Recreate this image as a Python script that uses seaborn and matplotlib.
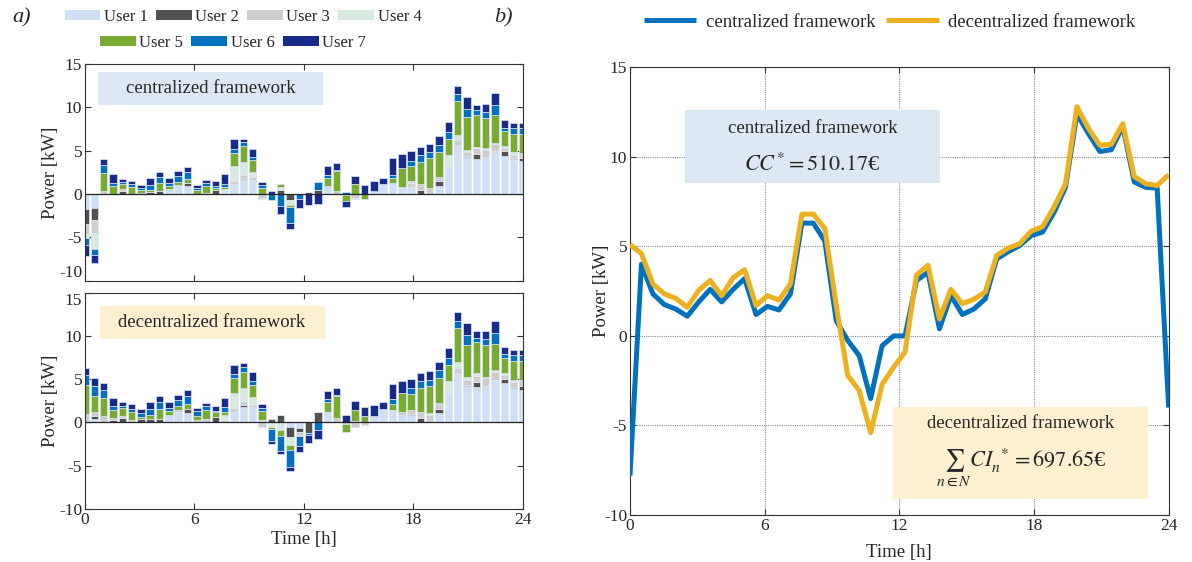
import numpy as np
import matplotlib.pyplot as plt
from matplotlib.patches import Rectangle
import seaborn as sns

# time axis: 48 samples over the day
time_h = np.linspace(0, 24, 48)

users = ["User 1", "User 2", "User 3", "User 4", "User 5", "User 6", "User 7"]
user_colors = ["#cfe0f6", "#515151", "#cdcdcd", "#d7eadf", "#77ac30", "#0072bd", "#172b8b"]

# centralized framework - power per user [kW]
cen_u1 = [-1.7, -1.6, 0, 0, 0, 0, 0, 0, 0, 0.55,
          1.1, 0.9, 0, 0, 0, 0, 1.15, 1.7, 1.6, 0,
          0, 0, 0, 0, 0, 0, 0.9, 0, 0, 0,
          0, 0.4, 1.15, 1.3, 0.75, 0.85, 0, 0, 0.9, 3.15,
          5.65, 4.25, 4.05, 4.25, 4.95, 4.4, 4.05, 3.85]
cen_u2 = [-1.7, -1.35, 0, 0, 0.4, 0, 0, 0.25, 0.4, 0,
          0, 0.4, 0, 0, 0.45, 0, 0, 0.2, 0, 0,
          0, 0.45, -0.7, 0, 0.25, 0.5, 0, 0, 0, 0,
          0, 0, 0, 0, 0, 0, 0.45, 0, 0.6, 0,
          0, 0.1, 0.55, 0, 0, 0.55, 0.1, 0.3]
cen_u3 = [-1.2, -1.55, 0.35, 0, 0.15, 0, 0.15, 0, 0, 0,
          0, 0, 0, 0.15, 0, 0, 0.3, 0.25, 0.4, -0.45,
          0, 0, 0, 0, 0, 0, 0, 0.35, -0.1, -0.45,
          0, 0, 0, 0, 0.1, 0.4, 0.7, 0.65, 0.45, 0,
          0.6, 0.45, 0.7, 0.85, 0.8, 0.4, 0.4, 0.55]
cen_u4 = [-0.5, -1.8, 0, 0, 0, 0, 0, 0, 0, 0,
          0, 0, 0, 0, 0, 0.55, 1.75, 1.55, 0.55, -0.1,
          0, 0.4, -0.55, 0, 0, 0, 0, 0, 0, -0.15,
          0, 0, 0, 0, 0, 0.2, 0, 0.1, 0, 1.4,
          0.6, 0.3, 0.1, 0.2, 0.15, 0.15, 0.25, 0]
cen_u5 = [0, 0, 2.1, 0.9, 0.6, 0.85, 0.3, 0.2, 0.85, 0.35,
          0.3, 0.4, 0.45, 0.8, 0.25, 0.25, 1.55, 1.8, 1.35, 0.75,
          0, 0.35, -0.3, 0, 0, 0, 0.9, 2.3, -0.7, 1.15,
          -0.6, 0, 0, 0.6, 2.2, 1.75, 2.6, 3.35, 2.95, 1.75,
          3.9, 3.75, 3.75, 3.45, 3.2, 1.75, 2.15, 2.25]
cen_u6 = [-0.8, -0.75, 0.85, 0.4, 0.25, 0.3, 0.25, 0.65, 0.7, 0.4,
          0.7, 0.8, 0.25, 0.35, 0.2, 0.35, 0.5, 0.45, 0.4, 0.25,
          -0.65, -1.4, -1.75, -0.6, 0, 0.85, 0.45, 0.15, 0.2, 0,
          0, 0, 0, 0.35, 0, 0.65, 0.75, 0.75, 0.7, 0.9,
          0.8, 1.0, 0.55, 0.75, 1.15, 0.4, 0.65, 0.7]
cen_u7 = [-1.3, -0.85, 0.7, 1.05, 0.3, 0.3, 0.3, 0.7, 0.55, 0.5,
          0.55, 0.65, 0.4, 0.3, 0.55, 1.15, 1.05, 0.35, 0.95, 0.35,
          0.4, -0.9, -0.75, -1.05, -1.25, -1.2, 0.95, 0.75, -0.7, 0.9,
          1.1, 1.05, 0.75, 1.95, 1.6, 1.1, 0.95, 0.95, 1.15, 1.1,
          0.95, 1.35, 0.6, 0.9, 1.45, 0.9, 0.6, 0.5]

# decentralized framework - power per user [kW]
dec_u1 = [0.2, 0.35, 0, 0, 0, 0, 0, 0, 0, 0.9,
          1.25, 1.05, 0, 0, 0, 0, 1.25, 1.8, 1.8, 0,
          0, 0, -0.5, -0.6, 0, 0, 1.05, 0, 0, 0,
          0, 0.75, 1.55, 1.3, 0.85, 0.9, 0, 0, 1.05, 3.35,
          5.7, 4.25, 4.1, 4.25, 4.9, 4.5, 3.95, 3.75]
dec_u2 = [0, 0.4, 0, 0.25, 0.55, 0, 0.35, 0.45, 0.45, 0,
          0, 0.5, 0, 0, 0.65, 0, 0, 0.25, 0, 0,
          0.35, 0.9, -1.15, -0.55, -1.2, 1.25, 0, 0, 0, 0,
          0, 0, 0, 0, 0, 0.1, 0.55, 0, 0.5, 0,
          0, 0.1, 0.6, 0, 0, 0.5, 0.1, 0.5]
dec_u3 = [0.8, 0.5, 0.75, 0.25, 0.2, 0.25, 0, 0, 0, 0,
          0.2, 0, 0.25, 0.4, 0, 0.25, 0.45, 0.4, 0.25, -0.5,
          0, 0, 0, -0.25, 0, 0, 0.2, 0.55, -0.2, -0.5,
          -0.3, 0, 0, 0.1, 0.3, 0.45, 0.7, 0.85, 0.65, 0.1,
          0.55, 0.55, 0.7, 0.85, 0.95, 0.45, 0.6, 0.65]
dec_u4 = [0, 0, 0, 0, 0, 0, 0, 0, 0, 0,
          0, 0, 0, 0, 0, 0.6, 1.7, 1.55, 0.85, 0.25,
          -0.5, -0.9, -0.95, -0.15, 0, 0, 0, 0, 0, 0.2,
          0, 0, 0, 0, 0, 0, 0, 0.2, 0, 1.3,
          0.7, 0.4, 0.25, 0.2, 0.2, 0.2, 0.25, 0]
dec_u5 = [3.35, 1.85, 2.1, 0.95, 0.9, 0.9, 0.3, 0.4, 1.15, 0.4,
          0.4, 0.55, 0.5, 1.05, 0.5, 0.4, 1.75, 1.8, 1.45, 1.1,
          -0.25, -0.65, -0.6, 0, 0, 0, 1.15, 2.55, -0.95, 1.25,
          0.75, 0, 0, 0.7, 2.2, 1.85, 2.7, 3.15, 2.9, 1.85,
          4.0, 3.65, 3.6, 3.65, 3.0, 1.75, 2.2, 2.2]
dec_u6 = [1.1, 1.15, 0.9, 0.45, 0.25, 0.4, 0.45, 0.7, 0.8, 0.4,
          0.75, 0.9, 0.55, 0.4, 0.15, 0.55, 0.45, 0.55, 0.4, 0.3,
          -1.4, -1.8, -2.0, -1.15, -0.2, -0.9, 0.25, 0.1, 0, 0,
          0, 0, 0, 0.55, 0, 0.65, 0.85, 0.75, 0.95, 0.85,
          0.75, 1.1, 0.55, 0.7, 1.25, 0.45, 0.7, 0.7]
dec_u7 = [0.8, 0.85, 0.75, 0.95, 0.4, 0.55, 0.4, 0.75, 0.7, 0.7,
          0.6, 0.75, 0.4, 0.4, 0.6, 1.05, 1.05, 0.5, 1.05, 0.45,
          -0.35, -0.35, -0.4, -0.7, -1.0, -1.05, 0.95, 0.75, 0.85, 1.05,
          1.0, 1.25, 0.75, 1.8, 1.45, 1.1, 0.95, 0.95, 0.95, 1.1,
          1.1, 1.4, 0.7, 0.95, 1.45, 0.9, 0.6, 0.6]

# total power of the community [kW]
total_cen = [-7.8, 4.0, 2.35, 1.75, 1.5, 1.1, 1.9, 2.6, 1.9, 2.6,
             3.2, 1.2, 1.65, 1.45, 2.35, 6.3, 6.3, 5.3, 0.85, -0.25,
             -1.1, -3.5, -0.55, 0.0, 0.0, 3.1, 3.55, 0.4, 2.25, 1.2,
             1.5, 2.07, 4.3, 4.7, 5.05, 5.6, 5.8, 6.9, 8.3, 12.4,
             11.3, 10.3, 10.4, 11.7, 8.6, 8.3, 8.25, -4.0]
total_dec = [5.1, 4.6, 2.9, 2.35, 2.1, 1.6, 2.55, 3.1, 2.25, 3.25,
             3.7, 1.7, 2.25, 2.0, 2.9, 6.8, 6.8, 6.0, 1.7, -2.2,
             -3.05, -5.4, -2.7, -1.75, -0.9, 3.4, 3.95, 0.95, 2.6, 1.8,
             2.05, 2.45, 4.5, 4.9, 5.15, 5.85, 6.1, 7.2, 8.5, 12.8,
             11.6, 10.65, 10.7, 11.85, 8.9, 8.5, 8.4, 9.0]

sns.set_style("ticks")
plt.rcParams["font.family"] = ["Liberation Serif", "DejaVu Serif"]
plt.rcParams["mathtext.fontset"] = "stix"
plt.rcParams["axes.unicode_minus"] = False
plt.rcParams["xtick.direction"] = "in"
plt.rcParams["ytick.direction"] = "in"

fig = plt.figure(figsize=(11.92, 5.62), dpi=100)
ax_top = fig.add_axes([0.0713, 0.5005, 0.3674, 0.3856])
ax_bot = fig.add_axes([0.0713, 0.0943, 0.3674, 0.3852])
ax_r = fig.add_axes([0.5285, 0.0836, 0.4519, 0.7966])

bar_w = 0.8 * (time_h[1] - time_h[0])


def stacked_bars(ax, parts):
    pos = np.zeros(len(time_h))
    neg = np.zeros(len(time_h))
    for vals, col, name in zip(parts, user_colors, users):
        v = np.array(vals, dtype=float)
        base = np.where(v >= 0, pos, neg)
        ax.bar(time_h, v, width=bar_w, bottom=base, color=col,
               edgecolor="#dfe5f4", linewidth=0.5, label=name, zorder=2)
        pos += np.clip(v, 0, None)
        neg += np.clip(v, None, 0)
    ax.axhline(0, color="#222222", lw=0.9, zorder=3)


def style_axes(ax):
    ax.set_xlim(0, 24)
    ax.set_ylim(-10, 15)
    ax.set_xticks([0, 6, 12, 18, 24])
    ax.set_yticks([-10, -5, 0, 5, 10, 15])
    ax.tick_params(top=True, right=True, labelsize=12.5, length=4,
                   width=0.8, color="#333333", pad=2)
    for s in ax.spines.values():
        s.set_color("#333333")
        s.set_linewidth(0.8)


stacked_bars(ax_top, [cen_u1, cen_u2, cen_u3, cen_u4, cen_u5, cen_u6, cen_u7])
stacked_bars(ax_bot, [dec_u1, dec_u2, dec_u3, dec_u4, dec_u5, dec_u6, dec_u7])
for ax in (ax_top, ax_bot):
    style_axes(ax)
    ax.set_ylabel("Power [kW]", fontsize=13.5, labelpad=0)
ax_top.set_xticklabels([])
ax_bot.set_xlabel("Time [h]", fontsize=13.5, labelpad=2)

# keep the -10 / 15 labels of the stacked panels apart
ax_top.get_yticklabels()[0].set_verticalalignment("bottom")
ax_bot.get_yticklabels()[-1].set_verticalalignment("top")

# label boxes in the bar panels
ax_top.add_patch(Rectangle((0.030, 0.811), 0.513, 0.152, transform=ax_top.transAxes,
                           facecolor="#dce9f5", edgecolor="none", zorder=4))
ax_top.text(0.2865, 0.887, "centralized framework", transform=ax_top.transAxes,
            ha="center", va="center", fontsize=13.5, zorder=5)
ax_bot.add_patch(Rectangle((0.034, 0.785), 0.514, 0.153, transform=ax_bot.transAxes,
                           facecolor="#fdf0d0", edgecolor="none", zorder=4))
ax_bot.text(0.29, 0.861, "decentralized framework", transform=ax_bot.transAxes,
            ha="center", va="center", fontsize=13.5, zorder=5)

# legends for the users (two rows)
handles, labels = ax_top.get_legend_handles_labels()
leg_kw = dict(frameon=False, fontsize=12, handlelength=2.15, handleheight=0.55,
              handletextpad=0.2, columnspacing=0.5, borderaxespad=0, borderpad=0)
leg1 = fig.legend(handles[:4], labels[:4], ncol=4, loc="center",
                  bbox_to_anchor=(243 / 1192, 1 - 17 / 562), **leg_kw)
leg2 = fig.legend(handles[4:], labels[4:], ncol=3, loc="center",
                  bbox_to_anchor=(233 / 1192, 1 - 43 / 562), **leg_kw)
for leg in (leg1, leg2):
    for p in leg.get_patches():
        p.set_edgecolor("none")

# right panel: total power of both frameworks
sns.lineplot(x=time_h, y=total_cen, ax=ax_r, color="#0072bd", lw=3.6,
             label="centralized framework", solid_capstyle="butt", zorder=3)
sns.lineplot(x=time_h, y=total_dec, ax=ax_r, color="#edb120", lw=3.6,
             label="decentralized framework", solid_capstyle="butt", zorder=4)
style_axes(ax_r)
ax_r.grid(True, color="#8c8c8c", ls=(0, (1, 1)), lw=0.8, zorder=0)
ax_r.set_ylabel("Power [kW]", fontsize=13.5, labelpad=-4)
ax_r.set_xlabel("Time [h]", fontsize=13.5, labelpad=7)
ax_r.legend(loc="center", bbox_to_anchor=(0.482, 1 + (67.3 - 22) / 447.7), ncol=2,
            frameon=False, fontsize=13.5, handlelength=2.8, handletextpad=0.5,
            columnspacing=0.6, borderaxespad=0, borderpad=0)

ax_r.add_patch(Rectangle((0.102, 0.742), 0.4735, 0.163, transform=ax_r.transAxes,
                         facecolor="#dce9f5", edgecolor="none", zorder=5))
ax_r.text(0.339, 0.864, "centralized framework", transform=ax_r.transAxes,
          ha="center", va="center", fontsize=13.5, zorder=6)
ax_r.text(0.339, 0.782, r"$CC^{*} = 510.17$€", transform=ax_r.transAxes,
          ha="center", va="center", fontsize=16, zorder=6)

ax_r.add_patch(Rectangle((0.489, 0.035), 0.473, 0.207, transform=ax_r.transAxes,
                         facecolor="#fdf0d0", edgecolor="none", zorder=5))
ax_r.text(0.726, 0.205, "decentralized framework", transform=ax_r.transAxes,
          ha="center", va="center", fontsize=13.5, zorder=6)
ax_r.text(0.726, 0.105, r"$\sum_{n\in N} CI_{n}^{\ *} = 697.65$€", transform=ax_r.transAxes,
          ha="center", va="center", fontsize=16, zorder=6)

# panel letters
fig.text(12 / 1192, 1 - 18 / 562, "a)", fontsize=16, style="italic", va="center")
fig.text(494 / 1192, 1 - 18 / 562, "b)", fontsize=16, style="italic", va="center")

fig.savefig("out.png", dpi=100)
